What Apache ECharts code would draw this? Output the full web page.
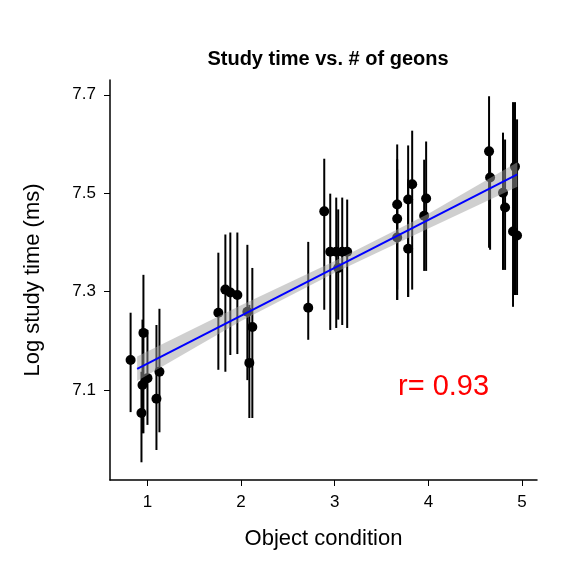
<!DOCTYPE html>
<html><head><meta charset="utf-8">
<script src="https://cdn.jsdelivr.net/npm/echarts@6/dist/echarts.min.js"></script>
<style>html,body{margin:0;background:#fff}#chart{width:576px;height:576px}</style>
</head><body><div id="chart"></div>
<script>
// points: [x, mean, low, high]
var points = [
    [0.82,7.161,7.055,7.257],[0.957,7.216,7.012,7.334],[0.936,7.053,6.953,7.137],
    [0.947,7.110,7.012,7.243],[1.0,7.124,7.029,7.222],[1.096,7.082,6.978,7.232],
    [1.128,7.137,7.014,7.265],
    [1.757,7.257,7.141,7.379],[1.832,7.304,7.137,7.416],[1.885,7.298,7.171,7.420],
    [1.960,7.293,7.173,7.420],[2.067,7.259,7.120,7.395],[2.120,7.228,7.043,7.348],
    [2.088,7.155,7.043,7.273],
    [2.717,7.267,7.202,7.401],[2.888,7.463,7.263,7.570],[2.952,7.381,7.222,7.499],
    [3.016,7.381,7.226,7.491],[3.080,7.381,7.232,7.491],[3.133,7.381,7.226,7.487],
    [3.037,7.348,7.243,7.467],
    [3.667,7.477,7.283,7.599],[3.667,7.448,7.304,7.569],[3.667,7.410,7.283,7.548],
    [3.784,7.487,7.289,7.597],[3.784,7.387,7.289,7.528],[3.827,7.518,7.304,7.627],
    [3.976,7.489,7.342,7.605],[3.955,7.454,7.342,7.568],
    [4.648,7.585,7.389,7.697],[4.659,7.532,7.385,7.589],[4.797,7.501,7.344,7.623],
    [4.819,7.471,7.344,7.609],[4.904,7.422,7.269,7.685],[4.947,7.414,7.293,7.650],
    [4.925,7.554,7.293,7.685]
];
var fitLine = [[0.89,7.143],[4.95,7.538]];
var bandX = [0.89, 2, 3, 4, 4.95];
var bandLow = [7.118, 7.240, 7.338, 7.428, 7.513];
var bandHigh = [7.168, 7.272, 7.362, 7.458, 7.563];
var xTicks = [1, 2, 3, 4, 5];
var yTicks = [7.1, 7.3, 7.5, 7.7];

var myChart = echarts.init(document.getElementById('chart'));
var bandPoly = [];
bandX.forEach(function(x, i){ bandPoly.push([x, bandLow[i]]); });
for (var i = bandX.length - 1; i >= 0; i--) bandPoly.push([bandX[i], bandHigh[i]]);

var axisFont = {color: '#000', fontSize: 17, fontFamily: 'Liberation Sans', margin: 14};
myChart.setOption({
    animation: false,
    title: {text: 'Study time vs. # of geons', left: 323, top: 44, textAlign: 'center',
        textStyle: {fontSize: 20, fontWeight: 'bold', color: '#000', fontFamily: 'Liberation Sans'}},
    grid: {left: 110, right: 39, top: 80, bottom: 96},
    xAxis: {type: 'value', min: 0.6, max: 5.16, splitLine: {show: false},
        name: 'Object condition', nameLocation: 'middle', nameGap: 48,
        nameTextStyle: {fontSize: 22, color: '#000', fontFamily: 'Liberation Sans'},
        axisLine: {lineStyle: {color: '#000', width: 1.5}},
        axisTick: {customValues: xTicks, length: 6, lineStyle: {color: '#000'}},
        axisLabel: Object.assign({customValues: xTicks}, axisFont)},
    yAxis: {type: 'value', min: 6.917, max: 7.73, splitLine: {show: false},
        name: 'Log study time (ms)', nameLocation: 'middle', nameGap: 66,
        nameTextStyle: {fontSize: 22, color: '#000', fontFamily: 'Liberation Sans'},
        axisLine: {show: true, lineStyle: {color: '#000', width: 1.5}},
        axisTick: {show: true, customValues: yTicks, length: 6, lineStyle: {color: '#000'}},
        axisLabel: Object.assign({customValues: yTicks, formatter: function(v){ return v.toFixed(1); }}, axisFont)},
    series: [
        {type: 'custom', data: points, z: 2,
            renderItem: function(params, api){
                var a = api.coord([api.value(0), api.value(2)]);
                var b = api.coord([api.value(0), api.value(3)]);
                return {type: 'line', shape: {x1: a[0], y1: a[1], x2: b[0], y2: b[1]},
                    style: {stroke: '#000', lineWidth: 2}};
            }},
        {type: 'scatter', data: points.map(function(p){ return [p[0], p[1]]; }),
            symbolSize: 10, itemStyle: {color: '#000', opacity: 1}, z: 3},
        {type: 'custom', data: [0], z: 4,
            renderItem: function(params, api){
                return {type: 'polygon', shape: {points: bandPoly.map(function(p){ return api.coord(p); })},
                    style: {fill: 'rgba(160,160,160,0.5)'}};
            }},
        {type: 'line', data: fitLine, showSymbol: false, z: 5,
            lineStyle: {color: '#0000ff', width: 2}}
    ],
    graphic: [{type: 'text', left: 398, top: 372,
        style: {text: 'r= 0.93', fill: '#ff0000', fontSize: 29, fontFamily: 'Liberation Sans'}}]
});
</script></body></html>
